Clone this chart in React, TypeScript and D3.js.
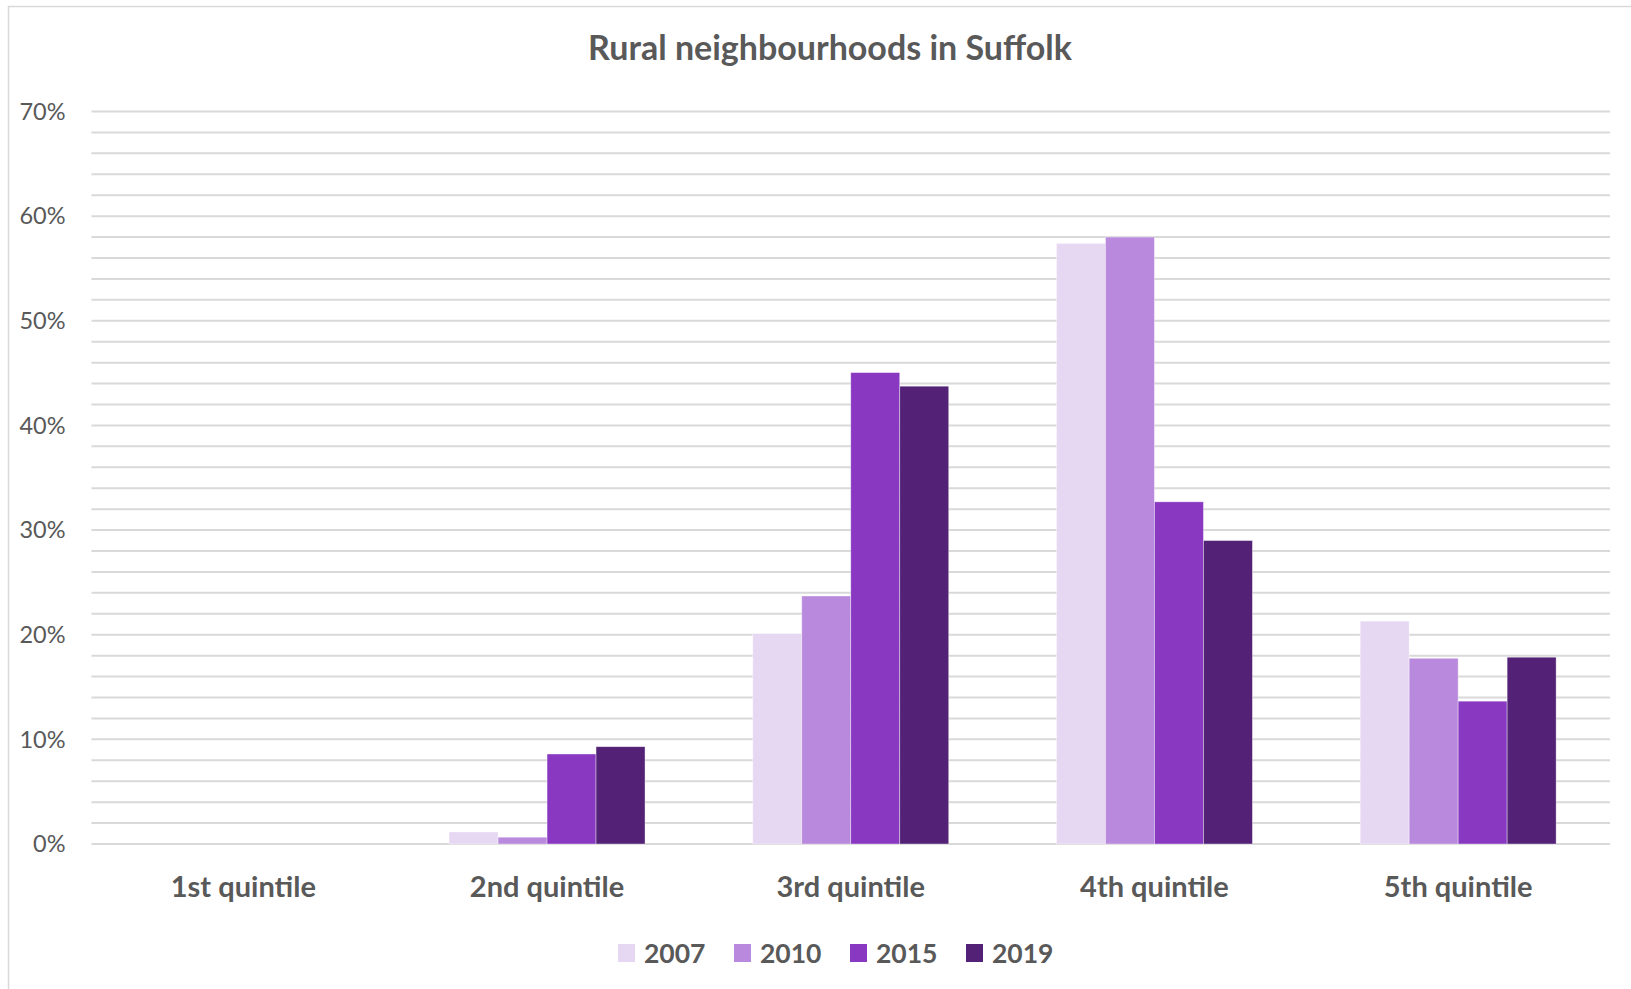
import React from 'react';
import * as d3 from 'd3';

const categories = ['1st quintile', '2nd quintile', '3rd quintile', '4th quintile', '5th quintile'];
const years = ['2007', '2010', '2015', '2019'];
const values2007 = [0, 1.15, 20.1, 57.4, 21.3];
const values2010 = [0, 0.65, 23.7, 58.0, 17.75];
const values2015 = [0, 8.6, 45.05, 32.7, 13.65];
const values2019 = [0, 9.3, 43.75, 29.0, 17.85];
const seriesColors = ['#E6D8F2', '#B889DC', '#8939C1', '#532276'];
const yTickValues = [0, 10, 20, 30, 40, 50, 60, 70];
const title = 'Rural neighbourhoods in Suffolk';

const W = 1631;
const H = 989;
const FONT = 'Lato, "Open Sans", sans-serif';
const TEXT = '#595959';

export default function App() {
  const series = [values2007, values2010, values2015, values2019];
  const left = 91.5;
  const right = 1610;
  const y = d3.scaleLinear().domain([0, 70]).range([844, 111.5]);
  const x0 = d3.scaleBand<string>().domain(categories).range([left, right]).padding(0);
  const step = x0.bandwidth();
  const groupW = step / 1.55;
  const x1 = d3.scaleBand<string>().domain(years).range([0, groupW]).padding(0);
  const grid = d3.range(0, 70.001, 2);

  const legendStart = 618;
  const legendStep = 116;

  return (
    <svg width={W} height={H} style={{ position: 'absolute', left: 0, top: 0, background: '#fff' }}>
      <rect x={0} y={0} width={W} height={H} fill="#fff" />
      <rect x={8.5} y={6.5} width={W + 20} height={H + 20} fill="none" stroke="#D9D9D9" strokeWidth={1.5} />
      <text x={830} y={60} textAnchor="middle" fontFamily={FONT} fontWeight={700} fontSize={34} fill={TEXT}>
        {title}
      </text>
      {grid.map((g) => (
        <line key={g} x1={left} x2={right} y1={y(g)} y2={y(g)} stroke="#D9D9D9" strokeWidth={2} />
      ))}
      {yTickValues.map((t) => (
        <text key={t} x={65.5} y={y(t)} dy="0.35em" textAnchor="end" fontFamily={FONT} fontSize={23.5} fill={TEXT}>
          {t + '%'}
        </text>
      ))}
      {categories.map((c, i) => {
        const gx = (x0(c) as number) + (step - groupW) / 2;
        return (
          <g key={c}>
            {years.map((yr, j) => {
              const v = series[j][i];
              if (v <= 0) return null;
              return (
                <rect
                  key={yr}
                  x={gx + (x1(yr) as number)}
                  y={y(v)}
                  width={x1.bandwidth()}
                  height={y(0) - y(v)}
                  fill={seriesColors[j]}
                  stroke="#ffffff"
                  strokeOpacity={0.5}
                  strokeWidth={0.75}
                />
              );
            })}
            <text x={(x0(c) as number) + step / 2} y={897} textAnchor="middle" fontFamily={FONT} fontWeight={700} fontSize={29} fill={TEXT}>
              {c}
            </text>
          </g>
        );
      })}
      {years.map((yr, j) => (
        <g key={yr} transform={`translate(${legendStart + j * legendStep},0)`}>
          <rect x={0} y={944} width={17} height={18} fill={seriesColors[j]} />
          <text x={26} y={963} fontFamily={FONT} fontWeight={700} fontSize={26.5} fill={TEXT}>
            {yr}
          </text>
        </g>
      ))}
    </svg>
  );
}
